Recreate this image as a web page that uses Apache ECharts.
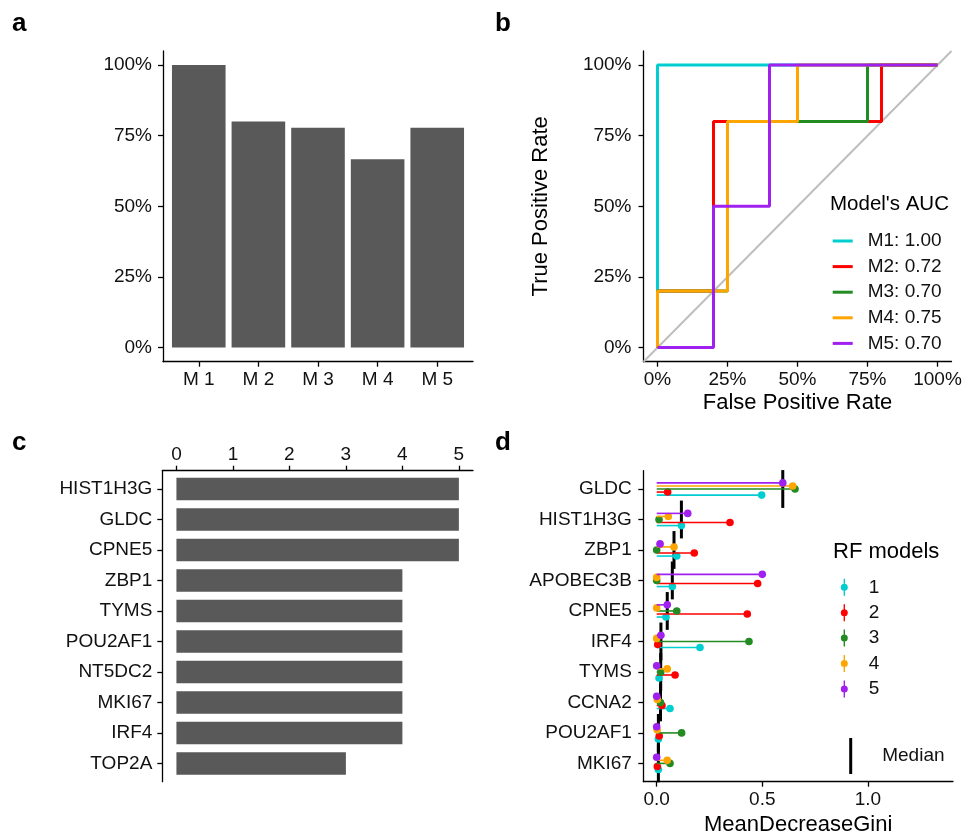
<!DOCTYPE html>
<html><head><meta charset="utf-8">
<script src="https://cdn.jsdelivr.net/npm/echarts@6/dist/echarts.min.js"></script>
<style>html,body{margin:0;padding:0;background:#fff}#c{width:977px;height:837px}</style>
</head><body><div id="c"></div>
<script>
// ---------- data ----------
const modelsA = ['M 1', 'M 2', 'M 3', 'M 4', 'M 5'];
const accuracyA = [1.0, 0.8, 0.778, 0.667, 0.778];
const pctTicks = [0, 0.25, 0.5, 0.75, 1];

const rocNames = ['M1: 1.00', 'M2: 0.72', 'M3: 0.70', 'M4: 0.75', 'M5: 0.70'];
const rocFpr1 = [0, 0, 1];
const rocTpr1 = [0, 1, 1];
const rocFpr2 = [0, 0, 0.2, 0.2, 0.8, 0.8, 1];
const rocTpr2 = [0, 0.2, 0.2, 0.8, 0.8, 1, 1];
const rocFpr3 = [0, 0, 0.25, 0.25, 0.75, 0.75, 1];
const rocTpr3 = [0, 0.2, 0.2, 0.8, 0.8, 1, 1];
const rocFpr4 = [0, 0, 0.25, 0.25, 0.5, 0.5, 1];
const rocTpr4 = [0, 0.2, 0.2, 0.8, 0.8, 1, 1];
const rocFpr5 = [0, 0.2, 0.2, 0.4, 0.4, 1];
const rocTpr5 = [0, 0, 0.5, 0.5, 1, 1];
const diagLine = [-0.05, 1.05];

const genesC = ['HIST1H3G', 'GLDC', 'CPNE5', 'ZBP1', 'TYMS', 'POU2AF1', 'NT5DC2', 'MKI67', 'IRF4', 'TOP2A'];
const countsC = [5, 5, 5, 4, 4, 4, 4, 4, 4, 3];
const ticksC = [0, 1, 2, 3, 4, 5];

const genesD = ['GLDC', 'HIST1H3G', 'ZBP1', 'APOBEC3B', 'CPNE5', 'IRF4', 'TYMS', 'CCNA2', 'POU2AF1', 'MKI67'];
const rfModels = ['1', '2', '3', '4', '5'];
const gini1 = [0.497, 0.117, 0.095, 0.074, 0.044, 0.205, 0.011, 0.063, 0.008, 0.008];
const gini2 = [0.052, 0.347, 0.178, 0.478, 0.429, 0.005, 0.087, 0.025, 0.012, 0.003];
const gini3 = [0.655, 0.011, 0.000, 0.000, 0.095, 0.437, 0.019, 0.018, 0.118, 0.063];
const gini4 = [0.644, 0.055, 0.082, 0.000, 0.000, 0.000, 0.050, 0.003, 0.002, 0.050];
const gini5 = [0.597, 0.147, 0.016, 0.500, 0.050, 0.020, 0.000, 0.000, 0.000, 0.000];
const ticksD = [0, 0.5, 1.0];

// ---------- styling ----------
const FF = '"Liberation Sans", Arial, Helvetica, sans-serif';
const rocColors = ['#00CED1', '#FF0000', '#228B22', '#FFA500', '#A020F0'];
const modelColors = ['#00CED1', '#FF0000', '#228B22', '#FFA500', '#A020F0'];
const barColor = '#595959';
const dodge = [0.2, 0.1, 0, -0.1, -0.2];

function ax(extra) {
  const base = {
    axisLine: { show: true, onZero: false, lineStyle: { color: '#000', width: 1.3 } },
    axisTick: { show: true, length: 5, lineStyle: { color: '#000', width: 1.3 } },
    axisLabel: { color: '#111', fontSize: 19, fontFamily: FF },
    splitLine: { show: false },
    nameTextStyle: { color: '#000', fontSize: 22, fontFamily: FF }
  };
  const out = Object.assign({}, base, extra);
  out.axisTick = Object.assign({}, base.axisTick, extra.axisTick || {});
  out.axisLabel = Object.assign({}, base.axisLabel, extra.axisLabel || {});
  return out;
}

const rocFprs = [rocFpr1, rocFpr2, rocFpr3, rocFpr4, rocFpr5];
const rocTprs = [rocTpr1, rocTpr2, rocTpr3, rocTpr4, rocTpr5];
const ginis = [gini1, gini2, gini3, gini4, gini5];
const medians = genesD.map((g, i) => {
  const s = ginis.map(a => a[i]).sort((a, b) => a - b);
  return s[2];
});

const series = [];
// panel a
series.push({
  type: 'bar', xAxisIndex: 0, yAxisIndex: 0, barWidth: 53.6,
  itemStyle: { color: barColor },
  data: accuracyA.map((v, i) => [i + 1, v])
});
// panel b
series.push({
  type: 'line', xAxisIndex: 1, yAxisIndex: 1, symbol: 'none', silent: true,
  lineStyle: { color: '#BEBEBE', width: 2 }, z: 1,
  data: diagLine.map(v => [v, v])
});
rocNames.forEach((n, k) => {
  series.push({
    name: n, type: 'line', xAxisIndex: 1, yAxisIndex: 1, symbol: 'none',
    color: rocColors[k], itemStyle: { color: rocColors[k] },
    lineStyle: { color: rocColors[k], width: 3 }, z: 2 + k,
    data: rocFprs[k].map((x, j) => [x, rocTprs[k][j]])
  });
});
// panel c
series.push({
  type: 'custom', xAxisIndex: 2, yAxisIndex: 2, encode: { x: 0, y: 1 },
  data: countsC.map((v, i) => [v, i]),
  renderItem: function (params, api) {
    const v = api.value(0), i = api.value(1);
    const p0 = api.coord([0, i]), p1 = api.coord([v, i]);
    const h = api.size([0, 1])[1] * 0.737;
    return { type: 'rect', shape: { x: p0[0], y: p0[1] - h / 2, width: p1[0] - p0[0], height: h }, style: { fill: barColor } };
  }
});
// panel d: median
series.push({
  name: 'Median', type: 'custom', xAxisIndex: 3, yAxisIndex: 3, encode: { x: 0, y: 1 },
  itemStyle: { color: '#000' }, z: 2,
  data: medians.map((v, i) => [v, i]),
  renderItem: function (params, api) {
    const v = api.value(0), i = api.value(1);
    const p = api.coord([v, i]);
    const h = api.size([0, 1])[1] * 0.62;
    return { type: 'line', shape: { x1: p[0], y1: p[1] - h, x2: p[0], y2: p[1] + h }, style: { stroke: '#000', lineWidth: 3 } };
  }
});
rfModels.forEach((n, k) => {
  series.push({
    name: n, type: 'custom', xAxisIndex: 3, yAxisIndex: 3, encode: { x: 0, y: 1 },
    itemStyle: { color: modelColors[k] }, z: 3 + k,
    data: ginis[k].map((v, i) => [v, i]),
    renderItem: function (params, api) {
      const v = api.value(0), i = api.value(1);
      const band = api.size([0, 1])[1];
      const p0 = api.coord([0, i]), p1 = api.coord([v, i]);
      const y = p0[1] + dodge[k] * band;
      return {
        type: 'group', children: [
          { type: 'line', shape: { x1: p0[0], y1: y, x2: p1[0], y2: y }, style: { stroke: modelColors[k], lineWidth: 1.6 } },
          { type: 'circle', shape: { cx: p1[0], cy: y, r: 3.8 }, style: { fill: modelColors[k] } }
        ]
      };
    }
  });
});

const option = {
  animation: false,
  backgroundColor: '#fff',
  grid: [
    { left: 163, top: 51, width: 310, height: 310.7 },
    { left: 643.5, top: 51, width: 308, height: 310.7 },
    { left: 162.3, top: 470.7, width: 310.7, height: 311 },
    { left: 643.3, top: 470.7, width: 309.7, height: 311 }
  ],
  xAxis: [
    ax({ gridIndex: 0, type: 'value', min: 0.4, max: 5.6,
      axisTick: { customValues: [1, 2, 3, 4, 5] },
      axisLabel: { customValues: [1, 2, 3, 4, 5], margin: 9, formatter: v => modelsA[Math.round(v) - 1] } }),
    ax({ gridIndex: 1, type: 'value', min: -0.05, max: 1.05,
      name: 'False Positive Rate', nameLocation: 'middle', nameGap: 30,
      axisTick: { customValues: pctTicks },
      axisLabel: { customValues: pctTicks, margin: 9, formatter: v => Math.round(v * 100) + '%' } }),
    ax({ gridIndex: 2, type: 'value', position: 'top', min: -0.25, max: 5.25,
      axisTick: { customValues: ticksC },
      axisLabel: { customValues: ticksC, margin: 6, formatter: v => String(v) } }),
    ax({ gridIndex: 3, type: 'value', min: -0.0634, max: 1.403,
      name: 'MeanDecreaseGini', nameLocation: 'middle', nameGap: 32,
      axisTick: { customValues: ticksD },
      axisLabel: { customValues: ticksD, margin: 9, formatter: v => v.toFixed(1) } })
  ],
  yAxis: [
    ax({ gridIndex: 0, type: 'value', min: -0.05, max: 1.05,
      axisTick: { customValues: pctTicks },
      axisLabel: { customValues: pctTicks, margin: 11, formatter: v => Math.round(v * 100) + '%' } }),
    ax({ gridIndex: 1, type: 'value', min: -0.05, max: 1.05,
      name: 'True Positive Rate', nameLocation: 'middle', nameGap: 92,
      axisTick: { customValues: pctTicks },
      axisLabel: { customValues: pctTicks, margin: 12, formatter: v => Math.round(v * 100) + '%' } }),
    ax({ gridIndex: 2, type: 'value', inverse: true, min: -0.6, max: 9.6,
      axisTick: { customValues: genesC.map((g, i) => i) },
      axisLabel: { customValues: genesC.map((g, i) => i), margin: 10, formatter: v => genesC[Math.round(v)] } }),
    ax({ gridIndex: 3, type: 'value', inverse: true, min: -0.6, max: 9.6,
      axisTick: { customValues: genesD.map((g, i) => i) },
      axisLabel: { customValues: genesD.map((g, i) => i), margin: 11.5, formatter: v => genesD[Math.round(v)] } })
  ],
  legend: [
    { data: rocNames, orient: 'vertical', left: 832.7, top: 231, padding: 0,
      icon: 'rect', itemWidth: 20, itemHeight: 3, itemGap: 5.6, selectedMode: false,
      textStyle: { fontSize: 19, fontFamily: FF, color: '#111', lineHeight: 20, padding: [0, 0, 0, 10] } },
    { data: rfModels, orient: 'vertical', left: 840.8, top: 577.3, padding: 0,
      icon: 'path://M2.8,0H4.2V17H2.8Z M0,8.5A3.5,3.5 0 1 1 7,8.5A3.5,3.5 0 1 1 0,8.5Z',
      itemWidth: 7, itemHeight: 17, itemGap: 5.4, selectedMode: false,
      textStyle: { fontSize: 19, fontFamily: FF, color: '#111', lineHeight: 20, padding: [0, 0, 0, 16] } },
    { data: ['Median'], orient: 'vertical', left: 849.2, top: 738, padding: 0,
      icon: 'path://M0,0H3V36H0Z', itemWidth: 3, itemHeight: 36, selectedMode: false,
      textStyle: { fontSize: 19, fontFamily: FF, color: '#111', lineHeight: 20, padding: [0, 0, 0, 25] } }
  ],
  graphic: [
    { type: 'text', left: 12, top: 11, style: { text: 'a', font: 'bold 26px ' + FF, fill: '#000' } },
    { type: 'text', left: 495, top: 11, style: { text: 'b', font: 'bold 26px ' + FF, fill: '#000' } },
    { type: 'text', left: 12, top: 430, style: { text: 'c', font: 'bold 26px ' + FF, fill: '#000' } },
    { type: 'text', left: 495, top: 430, style: { text: 'd', font: 'bold 26px ' + FF, fill: '#000' } },
    { type: 'text', left: 830, top: 194, style: { text: "Model's AUC", font: '20.5px ' + FF, fill: '#000' } },
    { type: 'text', left: 833, top: 541, style: { text: 'RF models', font: '22px ' + FF, fill: '#000' } }
  ],
  series: series
};

const chart = echarts.init(document.getElementById('c'), null, { renderer: 'canvas' });
chart.setOption(option);
</script>
</body></html>
